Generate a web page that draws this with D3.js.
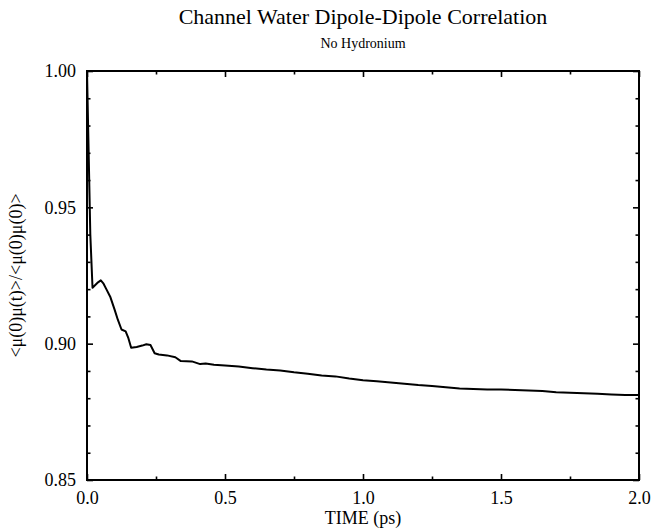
<!DOCTYPE html>
<html>
<head>
<meta charset="utf-8">
<script src="https://cdn.jsdelivr.net/npm/d3@7"></script>
<style>
  body { margin: 0; background: #fff; }
  text { font-family: "Liberation Serif", "Times New Roman", serif; fill: #000; }
</style>
</head>
<body>
<svg id="chart"></svg>
<script>
// time (ps) and correlation values
var times = [0.000, 0.005, 0.012, 0.020, 0.030, 0.040, 0.050, 0.060, 0.070, 0.085, 0.100, 0.112, 0.125, 0.140, 0.150, 0.160,
    0.180, 0.200, 0.215, 0.230, 0.245, 0.260, 0.290, 0.320, 0.340, 0.380, 0.410, 0.430, 0.460, 0.500, 0.550,
    0.600, 0.650, 0.700, 0.750, 0.800, 0.850, 0.900, 0.950, 1.000, 1.050, 1.100, 1.150, 1.200, 1.250, 1.300,
    1.350, 1.400, 1.450, 1.500, 1.550, 1.600, 1.650, 1.700, 1.750, 1.800, 1.850, 1.900, 1.950, 2.000];
var corr = [1.000, 0.975, 0.940, 0.9205, 0.9215, 0.9225, 0.9232, 0.922, 0.920, 0.917, 0.9125, 0.9087, 0.9052, 0.9045, 0.902, 0.8985,
    0.8988, 0.8993, 0.8998, 0.8995, 0.8965, 0.8960, 0.8957, 0.8950, 0.8936, 0.8935, 0.8925, 0.8927, 0.8923, 0.8920, 0.8916,
    0.8910, 0.8905, 0.8902, 0.8895, 0.8890, 0.8883, 0.8880, 0.8872, 0.8866, 0.8862, 0.8858, 0.8853, 0.8848, 0.8845, 0.8840,
    0.8836, 0.8834, 0.8832, 0.8832, 0.8830, 0.8828, 0.8826, 0.8822, 0.8820, 0.8818, 0.8816, 0.8814, 0.8812, 0.8812];
var xMajor = [0, 0.5, 1.0, 1.5, 2.0];
var yMajor = [0.85, 0.90, 0.95, 1.00];

var W = 652, H = 529;
var margin = {top: 71, right: 13, bottom: 49, left: 87},
    width = W - margin.left - margin.right,
    height = H - margin.top - margin.bottom;

var svg = d3.select("#chart").attr("width", W).attr("height", H);
var g = svg.append("g")
    .attr("transform", "translate(" + margin.left + "," + margin.top + ")");

var x = d3.scaleLinear().domain([0, 2]).range([0, width]);
var y = d3.scaleLinear().domain([0.85, 1.0]).range([height, 0]);

// minor ticks
var xMinor = d3.range(0, 2.001, 0.25).filter(function (d) { return xMajor.indexOf(d) < 0; });
var yMinor = d3.range(0.85, 1.0001, 0.01).map(function (d) { return +d.toFixed(2); })
    .filter(function (d) { return yMajor.indexOf(d) < 0; });

function addAxis(axis, transform, major, minor, label) {
    var a = g.append("g").attr("transform", transform);
    a.call(axis.tickValues(major).tickSize(-6).tickPadding(label ? 11 : 0).tickFormat(label ? label : ""));
    a.select(".domain").remove();
    a.selectAll(".tick line").attr("stroke", "#000").attr("stroke-width", 1.6);
    a.selectAll(".tick text").style("font-size", "18px").style("font-family", "Liberation Serif, serif");
    var b = g.append("g").attr("transform", transform);
    b.call(axis.tickValues(minor).tickSize(-3.5).tickFormat(""));
    b.select(".domain").remove();
    b.selectAll(".tick line").attr("stroke", "#000").attr("stroke-width", 1.6);
}

addAxis(d3.axisBottom(x), "translate(0," + height + ")", xMajor, xMinor, d3.format(".1f"));
addAxis(d3.axisTop(x), "translate(0,0)", xMajor, xMinor, null);
addAxis(d3.axisLeft(y), "translate(0,0)", yMajor, yMinor, d3.format(".2f"));
addAxis(d3.axisRight(y), "translate(" + width + ",0)", yMajor, yMinor, null);

// frame
g.append("rect")
    .attr("width", width).attr("height", height)
    .attr("fill", "none").attr("stroke", "#000").attr("stroke-width", 2);

var pts = times.map(function (t, i) { return [t, corr[i]]; });
g.append("path")
    .datum(pts)
    .attr("fill", "none")
    .attr("stroke", "#000")
    .attr("stroke-width", 2)
    .attr("stroke-linejoin", "round")
    .attr("d", d3.line().x(function (d) { return x(d[0]); }).y(function (d) { return y(d[1]); }));

// titles
svg.append("text")
    .attr("x", margin.left + width / 2).attr("y", 24)
    .attr("text-anchor", "middle").style("font-size", "22px")
    .text("Channel Water Dipole-Dipole Correlation");
svg.append("text")
    .attr("x", margin.left + width / 2).attr("y", 48)
    .attr("text-anchor", "middle").style("font-size", "14px")
    .text("No Hydronium");
svg.append("text")
    .attr("x", margin.left + width / 2).attr("y", 524)
    .attr("text-anchor", "middle").style("font-size", "18px")
    .text("TIME (ps)");
svg.append("text")
    .attr("transform", "translate(22," + (margin.top + height / 2) + ") rotate(-90)")
    .attr("text-anchor", "middle").style("font-size", "18px")
    .text("<μ(0)μ(t)>/<μ(0)μ(0)>");
</script>
</body>
</html>
